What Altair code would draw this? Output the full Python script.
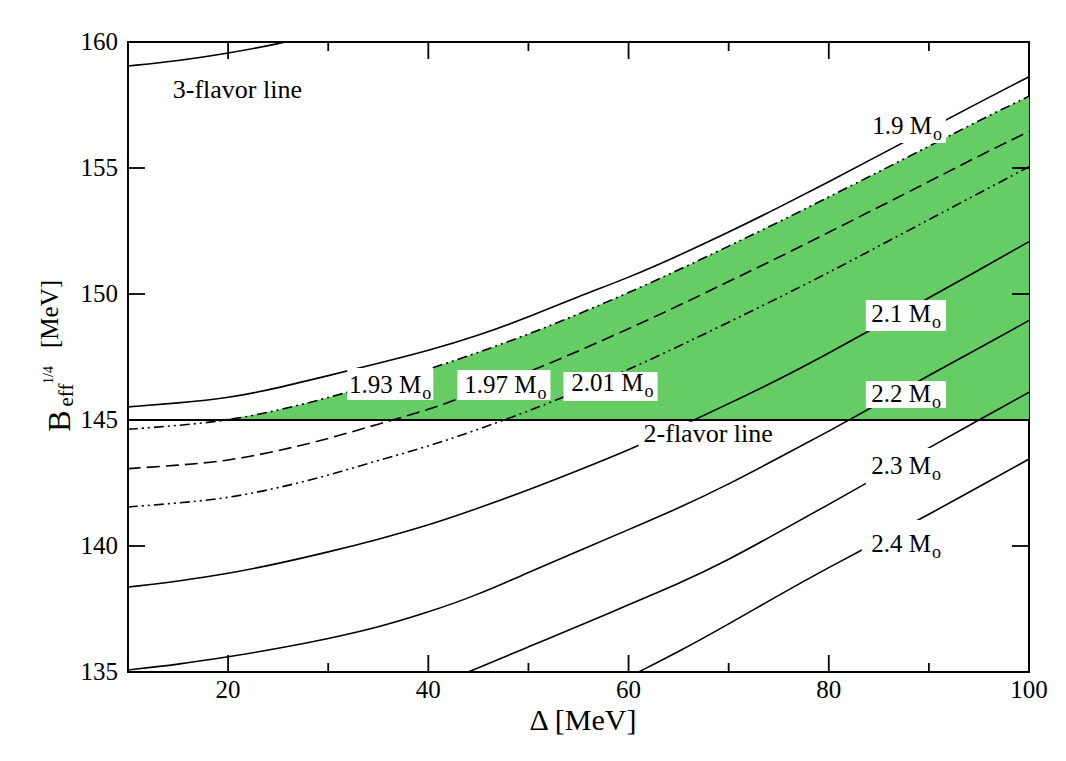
import altair as alt
import pandas as pd

# ---------------- data ----------------
delta = [10, 15, 20, 25, 30, 35, 40, 45, 50, 55, 60, 65, 70, 75, 80, 85, 90, 95, 100]
m190 = [145.52, 145.67, 145.87, 146.27, 146.76, 147.25, 147.75, 148.35, 149.08, 149.90,
        150.65, 151.52, 152.45, 153.43, 154.45, 155.50, 156.55, 157.60, 158.62]
m193 = [144.63, 144.78, 144.98, 145.38, 145.88, 146.45, 147.00, 147.68, 148.40, 149.20,
        150.05, 150.95, 151.90, 152.85, 153.85, 154.85, 155.86, 156.88, 157.85]
m197 = [143.07, 143.20, 143.38, 143.77, 144.25, 144.84, 145.40, 146.13, 146.90, 147.73,
        148.62, 149.53, 150.50, 151.45, 152.45, 153.45, 154.46, 155.48, 156.45]
m201 = [141.55, 141.70, 141.90, 142.30, 142.80, 143.40, 143.95, 144.63, 145.35, 146.15,
        147.00, 147.92, 148.88, 149.85, 150.85, 151.90, 152.95, 154.00, 155.05]
m210 = [138.37, 138.60, 138.90, 139.30, 139.76, 140.26, 140.82, 141.50, 142.22, 143.00,
        143.80, 144.70, 145.65, 146.60, 147.65, 148.75, 149.85, 150.95, 152.08]
m220 = [135.08, 135.30, 135.60, 135.93, 136.32, 136.77, 137.37, 138.07, 138.95, 139.80,
        140.65, 141.50, 142.45, 143.50, 144.55, 145.65, 146.77, 147.85, 148.95]
delta_230 = [44, 45, 50, 55, 60, 65, 70, 75, 80, 85, 90, 95, 100]
m230 = [135.00, 135.17, 136.00, 136.82, 137.67, 138.50, 139.45, 140.55, 141.65, 142.77,
        143.90, 145.00, 146.10]
delta_240 = [61, 65, 70, 75, 80, 85, 90, 95, 100]
m240 = [135.00, 135.80, 136.90, 138.05, 139.15, 140.20, 141.25, 142.35, 143.45]
delta_3fl = [10, 15, 20, 25, 30]
b_3fl = [159.05, 159.25, 159.55, 159.93, 160.35]
delta_2fl = [10, 100]
b_2fl = [145.0, 145.0]

x_major = [20, 40, 60, 80]
x_minor = [30, 50, 70, 90]
y_major = [140, 145, 150, 155]
x_labels = [20, 40, 60, 80, 100]
y_labels = [135, 140, 145, 150, 155, 160]

mass_text = ["1.9 M", "1.93 M", "1.97 M", "2.01 M", "2.1 M", "2.2 M", "2.3 M", "2.4 M"]
# annotation anchors (end of "M", text baseline) in data units
mass_d = [90.3, 39.3, 50.8, 61.5, 90.2, 90.2, 90.2, 90.2]
mass_b = [156.36, 146.08, 146.08, 146.15, 148.89, 145.71, 142.87, 139.76]
# white boxes behind labels
box_d1 = [83.7, 31.9, 42.9, 53.5, 83.7, 83.7, 83.7, 83.3, 61.0]
box_d2 = [91.7, 40.5, 52.2, 62.9, 91.7, 91.7, 91.7, 91.7, 75.3]
box_b1 = [155.99, 145.79, 145.79, 145.75, 148.53, 145.48, 142.38, 139.60, 143.81]
box_b2 = [157.22, 147.06, 146.98, 146.90, 149.76, 146.55, 143.89, 141.03, 144.93]

line_text = ["3-flavor line", "2-flavor line"]
line_d = [14.47, 61.5]
line_b = [157.77, 144.13]

FONT = "Liberation Serif"
W, H = 901, 630

xsc = alt.Scale(domain=[10, 100], nice=False, zero=False)
ysc = alt.Scale(domain=[135, 160], nice=False, zero=False)


def X(field):
    return alt.X(field, scale=xsc, axis=None)


def Y(field):
    return alt.Y(field, scale=ysc, axis=None)


def df(xs, ys):
    return pd.DataFrame({"d": xs, "b": ys})


INTERP = "basis"

# ---------------- green allowed region ----------------
area = alt.Chart(df(delta, m193)).transform_calculate(
    top="max(datum.b, 145)"
).mark_area(color="#66CC66", opacity=1, interpolate=INTERP).encode(
    x=X("d:Q"), y=Y("top:Q"), y2=alt.datum(145),
)


def curve(xs, ys, dash=None, width=1.6):
    kw = dict(color="black", strokeWidth=width, interpolate=INTERP, clip=True)
    if dash:
        kw["strokeDash"] = dash
    return alt.Chart(df(xs, ys)).mark_line(**kw).encode(x=X("d:Q"), y=Y("b:Q"))


dashdotdot = [10, 4, 2, 4, 2, 4]
lines = [
    curve(delta, m190),
    curve(delta, m193, dashdotdot),
    curve(delta, m197, [13, 6]),
    curve(delta, m201, dashdotdot),
    curve(delta, m210),
    curve(delta, m220),
    curve(delta_230, m230),
    curve(delta_240, m240),
    curve(delta_3fl, b_3fl),
    curve(delta_2fl, b_2fl, width=2),
]

boxes = alt.Chart(pd.DataFrame({"d1": box_d1, "d2": box_d2, "b1": box_b1, "b2": box_b2})).mark_rect(
    color="white", opacity=1).encode(
    x=X("d1:Q"), x2="d2:Q", y=Y("b1:Q"), y2="b2:Q",
)

mass_df = pd.DataFrame({"t": mass_text, "d": mass_d, "b": mass_b})
mass_main = alt.Chart(mass_df).mark_text(
    font=FONT, fontSize=25, align="right", baseline="alphabetic", color="black").encode(
    x=X("d:Q"), y=Y("b:Q"), text="t:N")
mass_sub = alt.Chart(mass_df).mark_text(
    font=FONT, fontSize=18, align="left", baseline="alphabetic", dx=1, dy=6, color="black").encode(
    x=X("d:Q"), y=Y("b:Q"), text=alt.value("o"))

line_labels = alt.Chart(pd.DataFrame({"t": line_text, "d": line_d, "b": line_b})).mark_text(
    font=FONT, fontSize=26, align="left", baseline="alphabetic", color="black").encode(
    x=X("d:Q"), y=Y("b:Q"), text="t:N")


# ---------------- inward ticks on all four sides ----------------
def xticks(vals, y0, y1):
    return alt.Chart(pd.DataFrame({"d": vals})).mark_rule(color="black", strokeWidth=1.8).encode(
        x=X("d:Q"), y=alt.value(y0), y2=alt.value(y1))


def yticks(vals, x0, x1):
    return alt.Chart(pd.DataFrame({"b": vals})).mark_rule(color="black", strokeWidth=1.8).encode(
        y=Y("b:Q"), x=alt.value(x0), x2=alt.value(x1))


ticks = [
    xticks(x_major, H, H - 17), xticks(x_minor, H, H - 9),
    xticks(x_major, 0, 17), xticks(x_minor, 0, 9),
    yticks(y_major, 0, 17), yticks(y_major, W, W - 17),
]

# ---------------- tick labels (placed through the scales) ----------------
xlab = alt.Chart(pd.DataFrame({"d": x_labels, "t": [str(v) for v in x_labels]})).mark_text(
    font=FONT, fontSize=25, align="center", baseline="alphabetic", color="black").encode(
    x=X("d:Q"), y=alt.value(H + 26), text="t:N")
ylab = alt.Chart(pd.DataFrame({"b": y_labels, "t": [str(v) for v in y_labels]})).mark_text(
    font=FONT, fontSize=25, align="right", baseline="middle", color="black").encode(
    y=Y("b:Q"), x=alt.value(-10), text="t:N")


# ---------------- axis titles ----------------
def label(text, x, y, size, angle=0, align="center"):
    return alt.Chart(pd.DataFrame({"t": [text]})).mark_text(
        font=FONT, fontSize=size, angle=angle, align=align, baseline="alphabetic",
        color="black").encode(x=alt.value(x), y=alt.value(y), text="t:N")


titles = [
    label("\u0394 [MeV]", 455, 688, 30),
    label("B", -58, 379, 32, angle=270),
    label("eff", -55, 353, 21, angle=270),
    label("1/4", -75, 333, 14, angle=270),
    label("[MeV]", -70, 272, 25, angle=270),
]

chart = alt.layer(
    area, *lines, boxes, mass_main, mass_sub, line_labels, *ticks, xlab, ylab, *titles
).properties(
    width=W, height=H,
    autosize=alt.AutoSizeParams(type="none"),
    padding={"left": 120, "top": 34, "right": 25, "bottom": 75},
    background="white",
).configure(
    font=FONT
).configure_view(
    stroke="black", strokeWidth=2
)

chart.save("out.html", embed_options={"renderer": "svg", "actions": False})
